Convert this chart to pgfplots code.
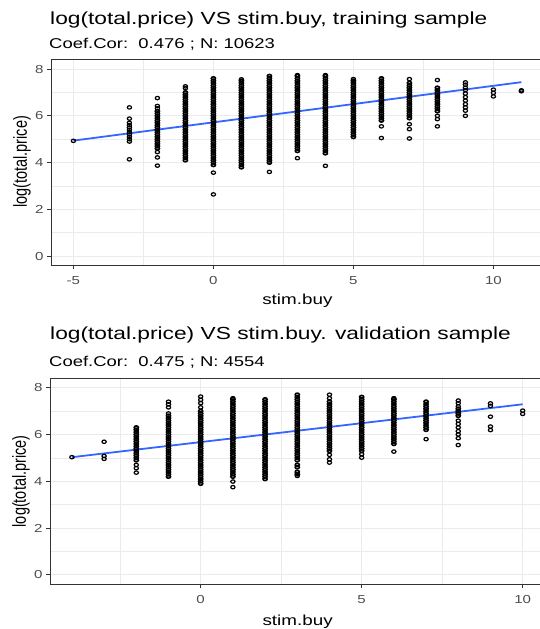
\documentclass[border=0pt]{standalone}
\usepackage{pgfplots}
\pgfplotsset{compat=1.18}
\usepackage{graphicx}
\usepackage{fontspec}
\setmainfont[FakeStretch=1.3]{Liberation Sans}
\newfontfamily\plainfont{Liberation Sans}

\definecolor{fitblue}{HTML}{3366FF}
\definecolor{gridgray}{HTML}{EBEBEB}
\definecolor{bordergray}{HTML}{333333}
\definecolor{tickgray}{HTML}{4D4D4D}

\pgfplotsset{
  ggp/.style={
    scale only axis, anchor=south west,
    axis line style={bordergray, line width=0.9pt},
    grid=both,
    major grid style={gridgray, line width=1.1pt},
    minor grid style={gridgray, line width=0.6pt},
    tick align=outside, tick pos=left,
    major tick length=4pt, minor tick length=0pt,
    every tick/.style={bordergray, line width=0.9pt},
    ytick={0,2,4,6,8}, minor ytick={1,3,5,7},
    minor xtick={-2.5,2.5,7.5},
    /pgf/number format/assume math mode=true,
    ticklabel style={font=\fontsize{11.6}{12}\selectfont, text=tickgray},
    xticklabel style={yshift=-4pt},
    xlabel={\fontsize{14.5}{16}\selectfont stim.buy},
    xlabel style={at={(axis description cs:0.5,0)}, anchor=base, yshift=-39pt},
    ylabel={\scalebox{1}[1.3]{\plainfont\fontsize{14.5}{16}\selectfont log(total.price)}},
    ylabel style={at={(axis description cs:0,0.5)}, anchor=center, yshift=29pt},
  },
  % single points: open circles
  sparse/.style={only marks, mark=o, mark size=1.7pt,
    mark options={xscale=1.25, line width=1.2pt, draw=black}},
  % dense stacks of points: circles overlap into a solid column
  dense/.style={only marks, mark=o, mark size=1.6pt,
    mark options={xscale=1.3, line width=1.6pt, draw=black}},
}

\begin{document}
\begin{tikzpicture}
\path[use as bounding box] (0,-629pt) rectangle (540pt,0pt);

% training sample
\begin{axis}[ggp, at={(51pt,-265pt)}, width=492.8pt, height=206pt,
  xmin=-5.8, xmax=11.8, ymin=-0.38, ymax=8.43, xtick={-5,0,5,10}]
\addplot[dense] coordinates {
(-2,4.6)(-2,4.7)(-2,4.8)(-2,4.9)(-2,5.0)(-2,5.1)(-2,5.2)(-2,5.3)(-2,5.4)(-2,5.5)(-2,5.6)(-2,5.7)(-2,5.8)(-2,5.9)(-2,6.0)(-2,6.1)(-2,6.2)
(-1,4.1)(-1,4.2)(-1,4.3)(-1,4.4)(-1,4.5)(-1,4.6)(-1,4.7)(-1,4.8)(-1,4.9)(-1,5.0)(-1,5.1)(-1,5.2)(-1,5.3)(-1,5.4)(-1,5.5)
(-1,5.6)(-1,5.7)(-1,5.8)(-1,5.9)(-1,6.0)(-1,6.1)(-1,6.2)(-1,6.3)(-1,6.4)(-1,6.5)(-1,6.6)(-1,6.7)(-1,6.8)(-1,6.9)(-1,7.0)
(0,3.9)(0,4.0)(0,4.1)(0,4.2)(0,4.3)(0,4.4)(0,4.5)(0,4.6)(0,4.7)(0,4.8)(0,4.9)(0,5.0)(0,5.1)(0,5.2)(0,5.3)(0,5.4)(0,5.5)(0,5.6)(0,5.7)
(0,5.8)(0,5.9)(0,6.0)(0,6.1)(0,6.2)(0,6.3)(0,6.4)(0,6.5)(0,6.6)(0,6.7)(0,6.8)(0,6.9)(0,7.0)(0,7.1)(0,7.2)(0,7.3)(0,7.4)(0,7.5)(0,7.6)
(1,3.8)(1,3.9)(1,4.0)(1,4.1)(1,4.2)(1,4.3)(1,4.4)(1,4.5)(1,4.6)(1,4.7)(1,4.8)(1,4.9)(1,5.0)(1,5.1)(1,5.2)(1,5.3)(1,5.4)(1,5.5)(1,5.6)
(1,5.7)(1,5.8)(1,5.9)(1,6.0)(1,6.1)(1,6.2)(1,6.3)(1,6.4)(1,6.5)(1,6.6)(1,6.7)(1,6.8)(1,6.9)(1,7.0)(1,7.1)(1,7.2)(1,7.3)(1,7.4)(1,7.5)
(2,4.0)(2,4.1)(2,4.2)(2,4.3)(2,4.4)(2,4.5)(2,4.6)(2,4.7)(2,4.8)(2,4.9)(2,5.0)(2,5.1)(2,5.2)(2,5.3)(2,5.4)(2,5.5)(2,5.6)(2,5.7)(2,5.8)
(2,5.9)(2,6.0)(2,6.1)(2,6.2)(2,6.3)(2,6.4)(2,6.5)(2,6.6)(2,6.7)(2,6.8)(2,6.9)(2,7.0)(2,7.1)(2,7.2)(2,7.3)(2,7.4)(2,7.5)(2,7.6)(2,7.7)
(3,4.5)(3,4.6)(3,4.7)(3,4.8)(3,4.9)(3,5.0)(3,5.1)(3,5.2)(3,5.3)(3,5.4)(3,5.5)(3,5.6)(3,5.7)(3,5.8)(3,5.9)(3,6.0)(3,6.1)
(3,6.2)(3,6.3)(3,6.4)(3,6.5)(3,6.6)(3,6.7)(3,6.8)(3,6.9)(3,7.0)(3,7.1)(3,7.2)(3,7.3)(3,7.4)(3,7.5)(3,7.6)(3,7.7)
(4,4.4)(4,4.5)(4,4.6)(4,4.7)(4,4.8)(4,4.9)(4,5.0)(4,5.1)(4,5.2)(4,5.3)(4,5.4)(4,5.5)(4,5.6)(4,5.7)(4,5.8)(4,5.9)(4,6.0)
(4,6.1)(4,6.2)(4,6.3)(4,6.4)(4,6.5)(4,6.6)(4,6.7)(4,6.8)(4,6.9)(4,7.0)(4,7.1)(4,7.2)(4,7.3)(4,7.4)(4,7.5)(4,7.6)(4,7.7)
(5,5.1)(5,5.2)(5,5.3)(5,5.4)(5,5.5)(5,5.6)(5,5.7)(5,5.8)(5,5.9)(5,6.0)(5,6.1)(5,6.2)(5,6.3)
(5,6.4)(5,6.5)(5,6.6)(5,6.7)(5,6.8)(5,6.9)(5,7.0)(5,7.1)(5,7.2)(5,7.3)(5,7.4)(5,7.5)
(6,5.8)(6,5.9)(6,6.0)(6,6.1)(6,6.2)(6,6.3)(6,6.4)(6,6.5)(6,6.6)(6,6.7)(6,6.8)(6,6.9)(6,7.0)(6,7.1)(6,7.2)(6,7.3)(6,7.4)(6,7.5)(6,7.6)
(7,5.9)(7,6.0)(7,6.1)(7,6.2)(7,6.3)(7,6.4)(7,6.5)(7,6.6)(7,6.7)(7,6.8)(7,6.9)(7,7.0)(7,7.1)(7,7.2)(7,7.3)(7,7.4)
(8,6.2)(8,6.3)(8,6.4)(8,6.5)(8,6.6)(8,6.7)(8,6.8)(8,6.9)(8,7.0)(8,7.1)(8,7.2)
};
\addplot[sparse] coordinates {
(-5,4.93)
(-3,6.36)(-3,5.88)(-3,5.7)(-3,5.6)(-3,5.5)(-3,5.4)(-3,5.3)(-3,5.2)(-3,5.1)(-3,5.0)(-3,4.9)(-3,4.14)
(-2,6.76)(-2,6.42)(-2,6.32)(-2,4.45)(-2,4.22)(-2,3.87)
(-1,7.26)(-1,7.18)
(0,3.57)(0,2.64)
(1,7.56)
(2,3.6)
(3,7.74)(3,4.19)
(4,7.74)(4,3.86)
(5,7.57)
(6,5.55)(6,5.05)
(7,7.57)(7,5.64)(7,5.43)(7,5.03)
(8,7.53)(8,6.0)(8,5.86)(8,5.55)
(9,7.43)(9,7.33)(9,7.2)(9,7.1)(9,6.95)(9,6.8)(9,6.65)(9,6.5)(9,6.36)(9,6.22)(9,6.0)
(10,7.12)(10,6.98)(10,6.83)
(11,7.05)(11,7.09)
};
\addplot[fitblue, line width=1.8pt] coordinates {(-5,4.94) (11,7.44)};
\end{axis}

% validation sample
\begin{axis}[ggp, at={(50pt,-584.3pt)}, width=495.2pt, height=206pt,
  xmin=-4.68, xmax=10.7, ymin=-0.40, ymax=8.40, xtick={0,5,10},
  xlabel style={yshift=-1.7pt}]
\addplot[dense] coordinates {
(-2,4.9)(-2,5.0)(-2,5.1)(-2,5.2)(-2,5.3)(-2,5.4)(-2,5.5)(-2,5.6)(-2,5.7)(-2,5.8)(-2,5.9)(-2,6.0)(-2,6.1)(-2,6.2)(-2,6.3)
(-1,4.2)(-1,4.3)(-1,4.4)(-1,4.5)(-1,4.6)(-1,4.7)(-1,4.8)(-1,4.9)(-1,5.0)(-1,5.1)(-1,5.2)(-1,5.3)(-1,5.4)(-1,5.5)
(-1,5.6)(-1,5.7)(-1,5.8)(-1,5.9)(-1,6.0)(-1,6.1)(-1,6.2)(-1,6.3)(-1,6.4)(-1,6.5)(-1,6.6)(-1,6.7)(-1,6.8)
(0,3.9)(0,4.0)(0,4.1)(0,4.2)(0,4.3)(0,4.4)(0,4.5)(0,4.6)(0,4.7)(0,4.8)(0,4.9)(0,5.0)(0,5.1)(0,5.2)(0,5.3)(0,5.4)
(0,5.5)(0,5.6)(0,5.7)(0,5.8)(0,5.9)(0,6.0)(0,6.1)(0,6.2)(0,6.3)(0,6.4)(0,6.5)(0,6.6)(0,6.7)(0,6.8)(0,6.9)(0,7.0)
(1,4.2)(1,4.3)(1,4.4)(1,4.5)(1,4.6)(1,4.7)(1,4.8)(1,4.9)(1,5.0)(1,5.1)(1,5.2)(1,5.3)(1,5.4)(1,5.5)(1,5.6)(1,5.7)(1,5.8)
(1,5.9)(1,6.0)(1,6.1)(1,6.2)(1,6.3)(1,6.4)(1,6.5)(1,6.6)(1,6.7)(1,6.8)(1,6.9)(1,7.0)(1,7.1)(1,7.2)(1,7.3)(1,7.4)(1,7.5)
(2,4.1)(2,4.2)(2,4.3)(2,4.4)(2,4.5)(2,4.6)(2,4.7)(2,4.8)(2,4.9)(2,5.0)(2,5.1)(2,5.2)(2,5.3)(2,5.4)(2,5.5)(2,5.6)(2,5.7)(2,5.8)
(2,5.9)(2,6.0)(2,6.1)(2,6.2)(2,6.3)(2,6.4)(2,6.5)(2,6.6)(2,6.7)(2,6.8)(2,6.9)(2,7.0)(2,7.1)(2,7.2)(2,7.3)(2,7.4)(2,7.5)
(3,4.3)(3,4.4)(3,4.6)(3,4.7)(3,4.9)(3,5.0)(3,5.1)(3,5.2)(3,5.3)(3,5.4)(3,5.5)(3,5.6)(3,5.7)(3,5.8)(3,5.9)(3,6.0)(3,6.1)
(3,6.2)(3,6.3)(3,6.4)(3,6.5)(3,6.6)(3,6.7)(3,6.8)(3,6.9)(3,7.0)(3,7.1)(3,7.2)(3,7.3)(3,7.4)(3,7.5)(3,7.6)(3,7.7)
(4,5.3)(4,5.4)(4,5.5)(4,5.6)(4,5.7)(4,5.8)(4,5.9)(4,6.0)(4,6.1)(4,6.2)(4,6.3)
(4,6.4)(4,6.5)(4,6.6)(4,6.7)(4,6.8)(4,6.9)(4,7.0)(4,7.1)(4,7.2)(4,7.3)(4,7.4)
(5,5.3)(5,5.4)(5,5.5)(5,5.6)(5,5.7)(5,5.8)(5,5.9)(5,6.0)(5,6.1)(5,6.2)(5,6.3)(5,6.4)
(5,6.5)(5,6.6)(5,6.7)(5,6.8)(5,6.9)(5,7.0)(5,7.1)(5,7.2)(5,7.3)(5,7.4)(5,7.5)(5,7.6)
(6,5.6)(6,5.7)(6,5.8)(6,5.9)(6,6.0)(6,6.1)(6,6.2)(6,6.3)(6,6.4)(6,6.5)
(6,6.6)(6,6.7)(6,6.8)(6,6.9)(6,7.0)(6,7.1)(6,7.2)(6,7.3)(6,7.4)(6,7.5)
(7,6.2)(7,6.3)(7,6.4)(7,6.5)(7,6.6)(7,6.7)(7,6.8)(7,6.9)(7,7.0)(7,7.1)(7,7.2)(7,7.3)(7,7.4)
(8,6.8)(8,6.9)(8,7.0)(8,7.1)
};
\addplot[sparse] coordinates {
(-4,5.03)
(-3,5.69)(-3,5.08)(-3,4.96)
(-2,4.7)(-2,4.56)(-2,4.37)
(-1,7.4)(-1,7.29)(-1,7.16)(-1,6.9)
(0,7.62)(0,7.48)(0,7.34)(0,7.16)
(1,7.55)(1,3.99)(1,3.75)
(3,4.23)
(4,7.7)(4,7.55)(4,5.13)(4,4.94)(4,4.8)
(5,5.16)(5,5.01)
(6,7.55)(6,5.27)
(7,5.8)
(8,7.45)(8,7.34)(8,7.2)(8,6.59)(8,6.45)(8,6.3)(8,6.14)(8,6.0)(8,5.84)(8,5.55)
(9,7.33)(9,7.22)(9,6.76)(9,6.34)(9,6.19)
(10,7.02)(10,6.88)
};
\addplot[fitblue, line width=1.8pt] coordinates {(-4,5.03) (10,7.29)};
\end{axis}

% titles and subtitles
\node[anchor=base west, inner sep=0pt, font=\fontsize{17.5}{19}\selectfont] at (50pt,-24pt) {log(total.price) VS stim.buy, training sample};
\node[anchor=base west, inner sep=0pt, font=\fontsize{14.2}{16}\selectfont] at (49pt,-48.3pt) {Coef.Cor:\ \ 0.476 ; N: 10623};
\node[anchor=base west, inner sep=0pt, font=\fontsize{17.5}{19}\selectfont] at (50pt,-339.3pt) {log(total.price) VS stim.buy. validation sample};
\node[anchor=base west, inner sep=0pt, font=\fontsize{14.2}{16}\selectfont] at (49pt,-366.7pt) {Coef.Cor:\ \ 0.475 ; N: 4554};
\end{tikzpicture}
\end{document}
